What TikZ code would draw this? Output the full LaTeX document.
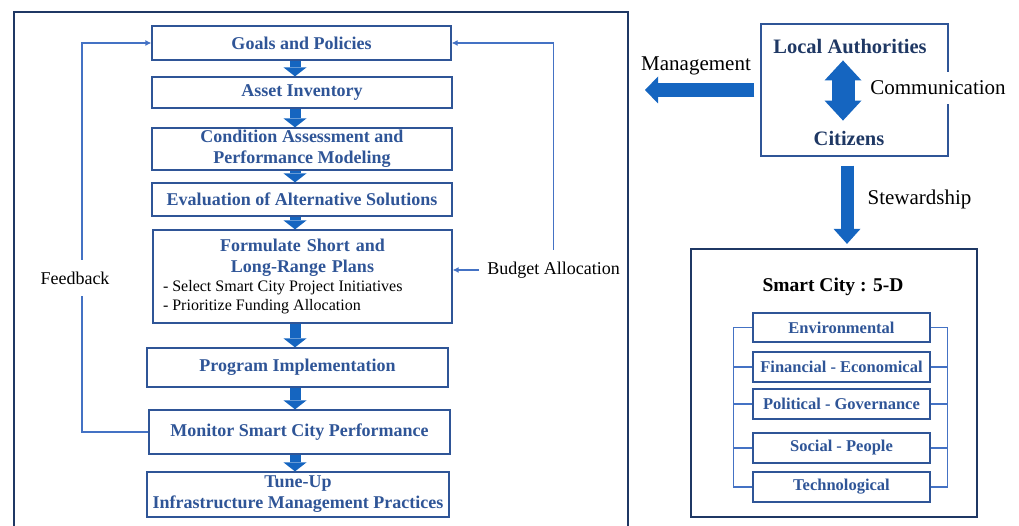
\documentclass[tikz,border=0pt]{standalone}
\usepackage{fontspec}
\setmainfont{Liberation Serif}
\usepackage{xcolor}
\usetikzlibrary{arrows.meta,calc,positioning}

\definecolor{navy}{HTML}{1F3864}
\definecolor{boxblue}{HTML}{2F5597}
\definecolor{arrblue}{HTML}{1565C0}
\definecolor{lineblue}{HTML}{4472C4}

\begin{document}
\begin{tikzpicture}[x=1pt,y=-1pt,
  stepbox/.style={draw=boxblue, line width=1.2pt, text=boxblue, inner sep=0pt,
    align=center, font=\fontsize{18}{21}\selectfont\bfseries},
  dimbox/.style={draw=boxblue, line width=1.2pt, text=boxblue, inner sep=0pt,
    minimum width=177pt, minimum height=30pt, font=\fontsize{16.5}{19}\selectfont\bfseries},
  blockarrow/.style={draw=arrblue, line width=11pt, -{Triangle[width=23pt,length=9pt,line width=0pt]}},
  thinarrow/.style={draw=lineblue, line width=1.6pt, -{Latex[length=6pt,width=6pt]}},
  bracket/.style={draw=lineblue, line width=1.5pt},
  lbl/.style={font=\fontsize{18}{21}\selectfont, inner sep=2pt},
  rlbl/.style={font=\fontsize{21}{24}\selectfont, inner sep=2pt}]

  \useasboundingbox (0,0) rectangle (1019,526);

  % ramme
  \draw[navy, line width=1.5pt] (14,526) -- (14,12) -- (628,12) -- (628,526);

  % prosessbokser
  \node[stepbox, minimum width=299pt, minimum height=34pt] (goals) at (301.5,43) {Goals and Policies};
  \node[stepbox, minimum width=300pt, minimum height=31pt] (asset) at (302,92.5) {Asset Inventory};
  \node[stepbox, minimum width=300pt, minimum height=42pt] (cond) at (302,149)
    {Condition Assessment and\\Performance Modeling};
  \node[stepbox, minimum width=300pt, minimum height=33pt] (eval) at (302,199.5)
    {Evaluation of Alternative Solutions};
  \node[stepbox, text width=279pt, inner xsep=10pt, minimum height=93pt] (form) at (302.5,276.5)
    {Formulate Short and\\Long-Range Plans\par
     {\mdseries\color{black}\fontsize{16}{19}\selectfont\spaceskip=0pt\xspaceskip=0pt\relax
     \makebox[\linewidth][l]{- Select Smart City Project Initiatives}\\
     \makebox[\linewidth][l]{- Prioritize Funding Allocation}\par}};
  \node[stepbox, minimum width=301pt, minimum height=39pt] (prog) at (297.5,367.5) {Program Implementation};
  \node[stepbox, minimum width=301pt, minimum height=44pt] (mon) at (299.5,432)
    {Monitor Smart City Performance};
  \node[stepbox, minimum width=302pt, minimum height=45pt] (tune) at (298,494.5)
    {Tune-Up\\Infrastructure Management Practices};

  % piler mellom boksene
  \coordinate (ax) at (295,0);
  \foreach \a/\b in {goals/asset, asset/cond, cond/eval, eval/form, form/prog, prog/mon, mon/tune}
    \draw[blockarrow] (\a.south -| ax) -- (\b.north -| ax);

  % tilbakekobling
  \coordinate (fbtop) at (82,43);
  \draw[thinarrow] (mon.west) -| (fbtop) -- (goals.west);
  \node[lbl, fill=white, inner ysep=12pt] (fb) at (75,278) {Feedback};

  % budsjett
  \node[lbl] (bud) at (553.5,270) {Budget Allocation};
  \draw[thinarrow, shorten <=10pt] (bud.north) |- (goals.east);
  \draw[thinarrow, shorten <=6pt] (bud.west) -- (bud.west -| form.east);

  % myndigheter og innbyggere
  \node[draw=boxblue, line width=1.5pt, minimum width=187pt, minimum height=132pt, inner sep=0pt]
    (auth) at (854.5,90) {};
  \node[font=\fontsize{20.5}{24}\selectfont\bfseries, text=navy, inner sep=0pt] (la) at (850,47)
    {Local Authorities};
  \node[font=\fontsize{20.5}{24}\selectfont\bfseries, text=navy, inner sep=0pt] (cit) at (849,138)
    {Citizens};
  \coordinate (cx) at (843,0);
  \draw[draw=arrblue, line width=23pt, shorten <=6pt, shorten >=10pt,
    {Triangle[width=37pt,length=20pt,line width=0pt]}-{Triangle[width=37pt,length=20pt,line width=0pt]}]
    (la.south -| cx) -- (cit.north -| cx);
  \node[rlbl, fill=white, inner ysep=9pt] (com) at (938,88) {Communication};

  % forvaltning
  \coordinate (mtip) at (645,90);
  \draw[draw=arrblue, line width=14pt, shorten <=6pt,
    -{Triangle[width=27pt,length=13pt,line width=0pt]}] (auth.west) -- (mtip);
  \node[rlbl] (mgt) at (696,66) {Management};

  % smart by
  \node[draw=navy, line width=2.2pt, minimum width=286pt, minimum height=268pt, inner sep=0pt]
    (smart) at (834,383) {};
  \node[font=\fontsize{19.5}{22}\selectfont\bfseries, inner sep=0pt] (sct) at (833,287) {Smart City : 5-D};

  \coordinate (sx) at (847,0);
  \draw[draw=arrblue, line width=13pt, shorten <=9pt, shorten >=4pt,
    -{Triangle[width=27pt,length=15pt,line width=0pt]}] (auth.south -| sx) -- (smart.north -| sx);
  \node[rlbl] (stw) at (919.5,199) {Stewardship};

  % dimensjoner
  \node[dimbox, minimum height=29pt] (env) at (841.5,327.5) {Environmental};
  \node[dimbox] (fin) at (841.5,367) {Financial - Economical};
  \node[dimbox] (pol) at (841.5,404) {Political - Governance};
  \node[dimbox] (soc) at (841.5,448) {Social - People};
  \node[dimbox] (tec) at (841.5,487) {Technological};

  \draw[bracket] (env.west) -- ++(-19,0) |- (tec.west);
  \draw[bracket] (env.east) -- ++(17,0) |- (tec.east);
  \foreach \n in {fin,pol,soc} {
    \draw[bracket] (\n.west) -- ++(-19,0);
    \draw[bracket] (\n.east) -- ++(17,0);
  }
\end{tikzpicture}
\end{document}
